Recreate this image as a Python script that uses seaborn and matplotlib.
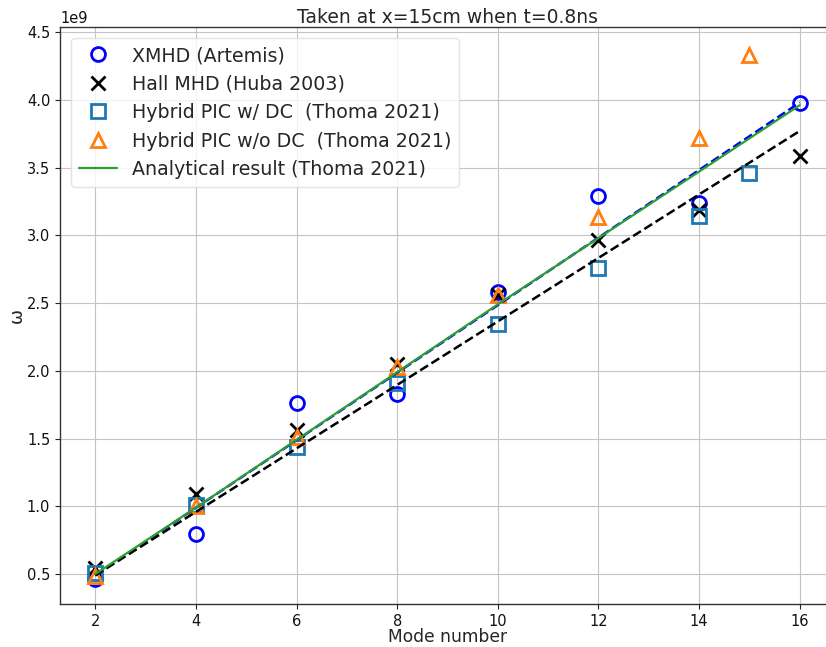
import matplotlib
matplotlib.use("Agg")
import matplotlib.pyplot as plt
import seaborn as sns
import numpy as np
import pandas as pd

# Dispersion data: angular frequency (units of 1e9 rad/s) versus azimuthal mode number
xmhd_modes = [2, 4, 6, 8, 10, 12, 14, 16]
xmhd_omega = [0.465, 0.795, 1.76, 1.83, 2.58, 3.29, 3.24, 3.975]

hall_modes = [2, 4, 6, 8, 10, 12, 14, 16]
hall_omega = [0.545, 1.09, 1.56, 2.05, 2.56, 2.965, 3.185, 3.585]

pic_dc_modes = [2, 4, 6, 8, 10, 12, 14, 15]
pic_dc_omega = [0.51, 1.01, 1.44, 1.91, 2.345, 2.76, 3.14, 3.46]

pic_nodc_modes = [2, 4, 6, 8, 10, 12, 14, 15]
pic_nodc_omega = [0.485, 1.0, 1.51, 2.03, 2.56, 3.135, 3.72, 4.33]

analytic_modes = [2, 4, 6, 8, 10, 12, 14, 16]
analytic_omega = [0.50, 0.99, 1.49, 1.99, 2.49, 2.98, 3.47, 3.96]

# Linear fits through the XMHD and Hall MHD points (end values)
xmhd_fit_modes = [2, 16]
xmhd_fit_omega = [0.49, 3.98]
hall_fit_modes = [2, 16]
hall_fit_omega = [0.49, 3.77]

SCALE = 1e9

sns.set_style("ticks")
plt.rcParams["font.family"] = ["DejaVu Sans"]

fig = plt.figure(figsize=(8.26, 6.47), dpi=100)
ax = fig.add_axes([60 / 826, 1 - 604 / 647, 775 / 826, 577 / 647])

def series(modes, omega):
    return pd.DataFrame({"mode": modes, "omega": np.asarray(omega) * SCALE})

ms = 10
mew = 2

sns.lineplot(data=series(xmhd_modes, xmhd_omega), x="mode", y="omega", ax=ax,
             marker="o", linestyle="", markersize=ms, markeredgewidth=mew,
             markerfacecolor="none", markeredgecolor="blue", color="blue",
             label="XMHD (Artemis)")
sns.lineplot(data=series(hall_modes, hall_omega), x="mode", y="omega", ax=ax,
             marker="x", linestyle="", markersize=ms, markeredgewidth=mew,
             markeredgecolor="black", color="black",
             label="Hall MHD (Huba 2003)")
sns.lineplot(data=series(pic_dc_modes, pic_dc_omega), x="mode", y="omega", ax=ax,
             marker="s", linestyle="", markersize=ms, markeredgewidth=mew,
             markerfacecolor="none", markeredgecolor="tab:blue", color="tab:blue",
             label="Hybrid PIC w/ DC  (Thoma 2021)")
sns.lineplot(data=series(pic_nodc_modes, pic_nodc_omega), x="mode", y="omega", ax=ax,
             marker="^", linestyle="", markersize=ms, markeredgewidth=mew,
             markerfacecolor="none", markeredgecolor="tab:orange", color="tab:orange",
             label="Hybrid PIC w/o DC  (Thoma 2021)")
sns.lineplot(data=series(xmhd_fit_modes, xmhd_fit_omega), x="mode", y="omega", ax=ax,
             color="blue", linestyle="--", linewidth=1.8, legend=False)
sns.lineplot(data=series(hall_fit_modes, hall_fit_omega), x="mode", y="omega", ax=ax,
             color="black", linestyle="--", linewidth=1.8, legend=False)
sns.lineplot(data=series(analytic_modes, analytic_omega), x="mode", y="omega", ax=ax,
             color="tab:green", linewidth=1.6,
             label="Analytical result (Thoma 2021)")

ax.set_xlim(1.3, 16.7)
ax.set_ylim(0.279 * SCALE, 4.537 * SCALE)
ax.set_xticks([2, 4, 6, 8, 10, 12, 14, 16])
ax.set_yticks(np.arange(0.5, 4.51, 0.5) * SCALE)

ax.grid(True, color="#c4c4c4", linewidth=0.8)
ax.set_axisbelow(True)
for side in ["left", "bottom", "top", "right"]:
    ax.spines[side].set_color("#333333")
    ax.spines[side].set_linewidth(1.0)
ax.tick_params(axis="both", labelsize=10.5, length=3.5, width=0.8, colors="#222222",
               labelcolor="#111111")
ax.yaxis.get_offset_text().set_fontsize(10.5)

ax.set_xlabel("Mode number", fontsize=12.3, labelpad=-0.5)
ax.set_ylabel("ω", fontsize=13, labelpad=1)
ax.set_title("Taken at x=15cm when t=0.8ns", fontsize=13.5, pad=3)

handles, labels = ax.get_legend_handles_labels()
ax.legend(handles, labels, loc="upper left", fontsize=13.7, frameon=True,
          framealpha=0.8, edgecolor="#dddddd", borderaxespad=0.6)

fig.savefig("out.png", dpi=100)
